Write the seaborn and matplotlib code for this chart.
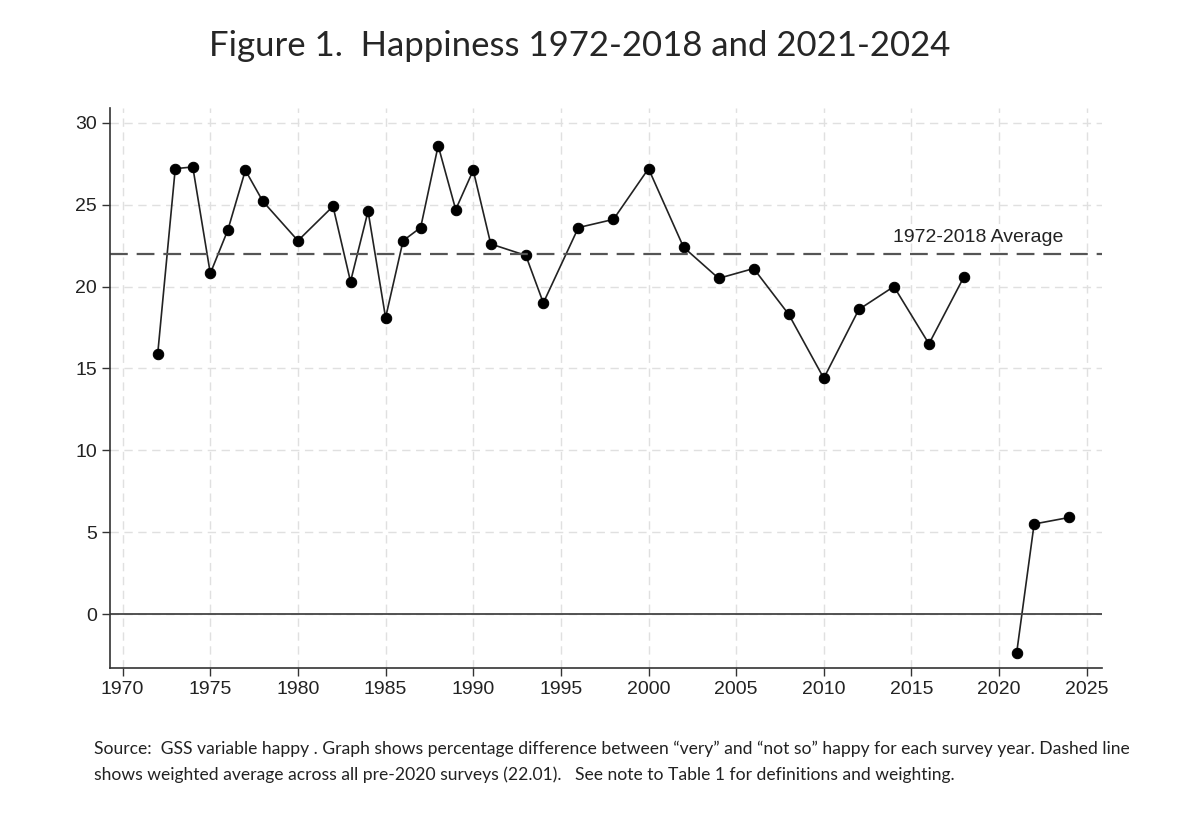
import numpy as np
import pandas as pd
import matplotlib
matplotlib.use("Agg")
import matplotlib.pyplot as plt
import seaborn as sns

# GSS happiness: % "very" minus % "not so" happy, by survey year
years_pre = [1972, 1973, 1974, 1975, 1976, 1977, 1978, 1980, 1982, 1983,
             1984, 1985, 1986, 1987, 1988, 1989, 1990, 1991, 1993, 1994,
             1996, 1998, 2000, 2002, 2004, 2006, 2008, 2010, 2012, 2014,
             2016, 2018]
happy_pre = [15.9, 27.2, 27.3, 20.8, 23.45, 27.1, 25.2, 22.8, 24.9, 20.3,
             24.6, 18.1, 22.8, 23.6, 28.6, 24.7, 27.1, 22.6, 21.9, 19.0,
             23.6, 24.1, 27.2, 22.4, 20.5, 21.1, 18.3, 14.4, 18.6, 20.0,
             16.5, 20.6]
years_post = [2021, 2022, 2024]
happy_post = [-2.4, 5.5, 5.9]
avg_pre = 22.01

x_ticks = list(range(1970, 2030, 5))
y_ticks = [0, 5, 10, 15, 20, 25, 30]

df = pd.DataFrame({
    "year": years_pre + years_post,
    "happy": happy_pre + happy_post,
    "period": ["pre"] * len(years_pre) + ["post"] * len(years_post),
})

sns.set_theme(style="white")
plt.rcParams["font.family"] = ["Liberation Sans", "DejaVu Sans"]

fig = plt.figure(figsize=(12, 8.31), dpi=100)
ax = fig.add_axes([0.092, 0.196, 0.826, 0.674])

for period in ["pre", "post"]:
    sub = df[df["period"] == period]
    sns.lineplot(data=sub, x="year", y="happy", ax=ax, color="#222222",
                 linewidth=1.2, marker="o", markersize=7.5,
                 markerfacecolor="black", markeredgecolor="black")

ax.axhline(avg_pre, color="#555555", linestyle=(0, (8, 4)), linewidth=1.6)
ax.axhline(0, color="#444444", linewidth=1.3)
ax.text(2018.8, avg_pre + 0.45, "1972-2018 Average", fontsize=14,
        color="#222222", ha="center", va="bottom")

ax.set_xlim(1969.3, 2025.85)
ax.set_ylim(-3.3, 30.9)
ax.set_xticks(x_ticks)
ax.set_yticks(y_ticks)
ax.grid(True, color="#e0e0e0", linestyle=(0, (6, 4)), linewidth=1.0)
ax.set_xlabel("")
ax.set_ylabel("")
for side in ["top", "right"]:
    ax.spines[side].set_visible(False)
for side in ["left", "bottom"]:
    ax.spines[side].set_color("#333333")
    ax.spines[side].set_linewidth(1.2)
ax.tick_params(axis="both", which="both", length=6, width=1.0,
               color="#333333", labelsize=14, labelcolor="#222222",
               left=True, bottom=True)

fig.text(0.483, 0.945, "Figure 1.  Happiness 1972-2018 and 2021-2024",
         ha="center", va="center", fontsize=25, family=["Lato", "DejaVu Sans"])
fig.text(0.078, 0.099,
         "Source:  GSS variable happy . Graph shows percentage difference between \u201cvery\u201d and \u201cnot so\u201d happy for each survey year. Dashed line",
         ha="left", va="center", fontsize=12.6, family=["Lato", "DejaVu Sans"], color="#222222")
fig.text(0.078, 0.068,
         "shows weighted average across all pre-2020 surveys (22.01).   See note to Table 1 for definitions and weighting.",
         ha="left", va="center", fontsize=12.6, family=["Lato", "DejaVu Sans"], color="#222222")

fig.savefig("out.png", dpi=100)
